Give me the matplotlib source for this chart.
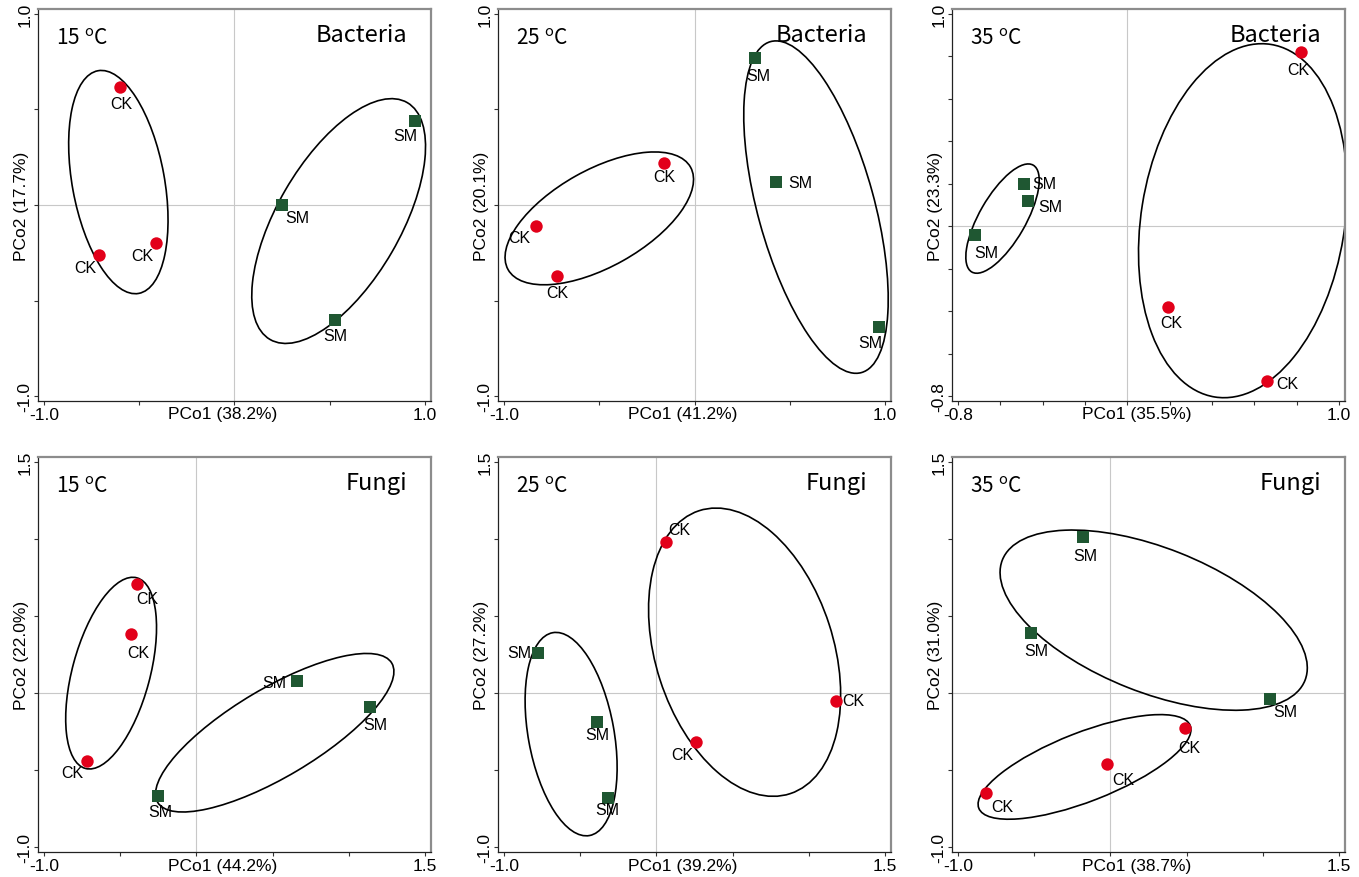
import matplotlib
matplotlib.use("Agg")
import matplotlib.pyplot as plt
from matplotlib.patches import Ellipse

# PCoA scores: bacteria / fungi at 15, 25, 35 oC
temps = ["15", "25", "35", "15", "25", "35"]
groups = ["Bacteria", "Bacteria", "Bacteria", "Fungi", "Fungi", "Fungi"]
pco1_pct = ["38.2", "41.2", "35.5", "44.2", "39.2", "38.7"]
pco2_pct = ["17.7", "20.1", "23.3", "22.0", "27.2", "31.0"]

ck_x = [[-0.60, -0.71, -0.41], [-0.16, -0.83, -0.72], [0.82, 0.19, 0.66],
        [-0.39, -0.43, -0.72], [0.06, 1.18, 0.26], [0.49, -0.02, -0.82]]
ck_y = [[0.62, -0.26, -0.20], [0.22, -0.11, -0.37], [0.82, -0.38, -0.73],
        [0.71, 0.38, -0.44], [0.98, -0.05, -0.32], [-0.23, -0.46, -0.65]]
sm_x = [[0.95, 0.25, 0.53], [0.32, 0.43, 0.97], [-0.49, -0.47, -0.72],
        [0.66, 1.14, -0.25], [-0.78, -0.39, -0.32], [-0.18, -0.52, 1.05]]
sm_y = [[0.44, 0.00, -0.60], [0.77, 0.12, -0.64], [0.20, 0.12, -0.04],
        [0.08, -0.09, -0.67], [0.26, -0.19, -0.68], [1.01, 0.39, -0.04]]

# group ellipses: centre x, centre y, width, height, angle (deg)
ck_ell = [(-0.61, 0.12, 1.185, 0.484, 100.4), (-0.50, -0.07, 1.098, 0.508, 29.2),
          (0.546, 0.026, 1.682, 0.962, 80.9), (-0.56, 0.129, 1.283, 0.509, 74.7),
          (0.579, 0.265, 1.932, 1.167, -71.9), (-0.17, -0.48, 1.488, 0.448, 21.1)]
sm_ell = [(0.547, -0.084, 1.434, 0.647, 59.8), (0.638, -0.011, 1.797, 0.612, -74.6),
          (-0.59, 0.036, 0.581, 0.219, 60.0), (0.514, -0.258, 1.783, 0.575, 30.4),
          (-0.56, -0.267, 1.339, 0.563, -79.6), (0.284, 0.473, 2.135, 0.938, -21.4)]

# axis ranges / ticks
x_ticks = [[-1, -0.5, 0, 0.5, 1], [-1, -0.5, 0, 0.5, 1],
           [-0.8, -0.6, -0.4, -0.2, 0, 0.2, 0.4, 0.6, 0.8, 1.0],
           [-1, -0.5, 0, 0.5, 1, 1.5], [-1, -0.5, 0, 0.5, 1, 1.5], [-1, -0.5, 0, 0.5, 1, 1.5]]
y_ticks = [[-1, -0.5, 0, 0.5, 1], [-1, -0.5, 0, 0.5, 1],
           [-0.8, -0.6, -0.4, -0.2, 0, 0.2, 0.4, 0.6, 0.8, 1.0],
           [-1, -0.5, 0, 0.5, 1, 1.5], [-1, -0.5, 0, 0.5, 1, 1.5], [-1, -0.5, 0, 0.5, 1, 1.5]]

# label offsets (points) for each marker label
ck_off = [[(1, -12), (-10, -9), (-10, -9)], [(0, -10), (-12, -8), (0, -12)],
          [(-2, -12.5), (3, -11.5), (15, -2)], [(7.5, -11), (5, -13), (-10.5, -8.5)],
          [(10, 9), (12.5, 0), (-10, -9)], [(3, -14), (11.5, -11.5), (12, -10)]]
sm_off = [[(-7, -10.5), (11, -9), (0, -11.5)], [(2, -13), (17, 0), (-6.5, -11)],
          [(15, 0), (16.5, -4), (8, -12.5)], [(-16, -1), (3.5, -12.7), (1.7, -11.3)],
          [(-13, 0), (0, -9), (0, -8.6)], [(1.5, -13), (3.5, -12.7), (11, -9)]]

red = "#e2001a"
green = "#1f5732"

plt.rcParams["font.family"] = ["Liberation Sans", "DejaVu Sans"]
plt.rcParams["mathtext.default"] = "regular"

fig = plt.figure(figsize=(13.59, 8.78), dpi=100)

lefts = [38, 498, 952]
for i in range(6):
    row, col = divmod(i, 3)
    if row == 0:
        top, bot = 10, 402
    else:
        top, bot = 458, 853
    left = lefts[col]
    ax = fig.add_axes([left / 1359, (878 - bot) / 878, 393 / 1359, (bot - top) / 878])

    xt, yt = x_ticks[i], y_ticks[i]
    xpad = (xt[-1] - xt[0]) * 0.016
    ypad = (yt[-1] - yt[0]) * 0.013
    ax.set_xlim(xt[0] - xpad, xt[-1] + xpad)
    ax.set_ylim(yt[0] - ypad, yt[-1] + ypad)
    ax.set_xticks(xt)
    ax.set_yticks(yt)
    ax.set_xticklabels([f"{xt[0]:.1f}"] + [""] * (len(xt) - 2) + [f"{xt[-1]:.1f}"], fontsize=12.5)
    ax.set_yticklabels([f"{yt[0]:.1f}"] + [""] * (len(yt) - 2) + [f"{yt[-1]:.1f}"], fontsize=12.5,
                       rotation=90, va="center")
    ax.tick_params(length=3, width=0.8, color="#333333", pad=1)

    for s in ["left", "bottom"]:
        ax.spines[s].set_color("#222222")
        ax.spines[s].set_linewidth(0.9)
    for s in ["top", "right"]:
        ax.spines[s].set_color("#8c8c8c")
        ax.spines[s].set_linewidth(1.6)

    ax.axhline(0, color="#c8c8c8", lw=0.8, zorder=0)
    ax.axvline(0, color="#c8c8c8", lw=0.8, zorder=0)

    for e in (ck_ell[i], sm_ell[i]):
        ax.add_patch(Ellipse((e[0], e[1]), e[2], e[3], angle=e[4],
                             fill=False, ec="black", lw=1.2, zorder=2))

    ax.scatter(ck_x[i], ck_y[i], s=80, marker="o", color=red, zorder=3, linewidths=0)
    ax.scatter(sm_x[i], sm_y[i], s=75, marker="s", color=green, zorder=3, linewidths=0)

    for x, y, off in zip(ck_x[i], ck_y[i], ck_off[i]):
        ax.annotate("CK", (x, y), xytext=off, textcoords="offset points",
                    ha="center", va="center", fontsize=11.5, zorder=4)
    for x, y, off in zip(sm_x[i], sm_y[i], sm_off[i]):
        ax.annotate("SM", (x, y), xytext=off, textcoords="offset points",
                    ha="center", va="center", fontsize=11.5, zorder=4)

    ax.text(0.045, 0.955, temps[i] + r" $^{o}$C", transform=ax.transAxes,
            ha="left", va="top", fontsize=15, family=["Noto Sans CJK SC", "DejaVu Sans"])
    ax.text(0.94, 0.965, groups[i], transform=ax.transAxes,
            ha="right", va="top", fontsize=17, family=["Noto Sans CJK SC", "DejaVu Sans"])

    ax.text(0.47, -0.014, f"PCo1 ({pco1_pct[i]}%)", transform=ax.transAxes,
            ha="center", va="top", fontsize=12.5)
    ax.text(-0.022, 0.5, f"PCo2 ({pco2_pct[i]}%)", transform=ax.transAxes,
            ha="right", va="center", rotation=90, fontsize=12.5)

fig.savefig("out.png", dpi=100)
